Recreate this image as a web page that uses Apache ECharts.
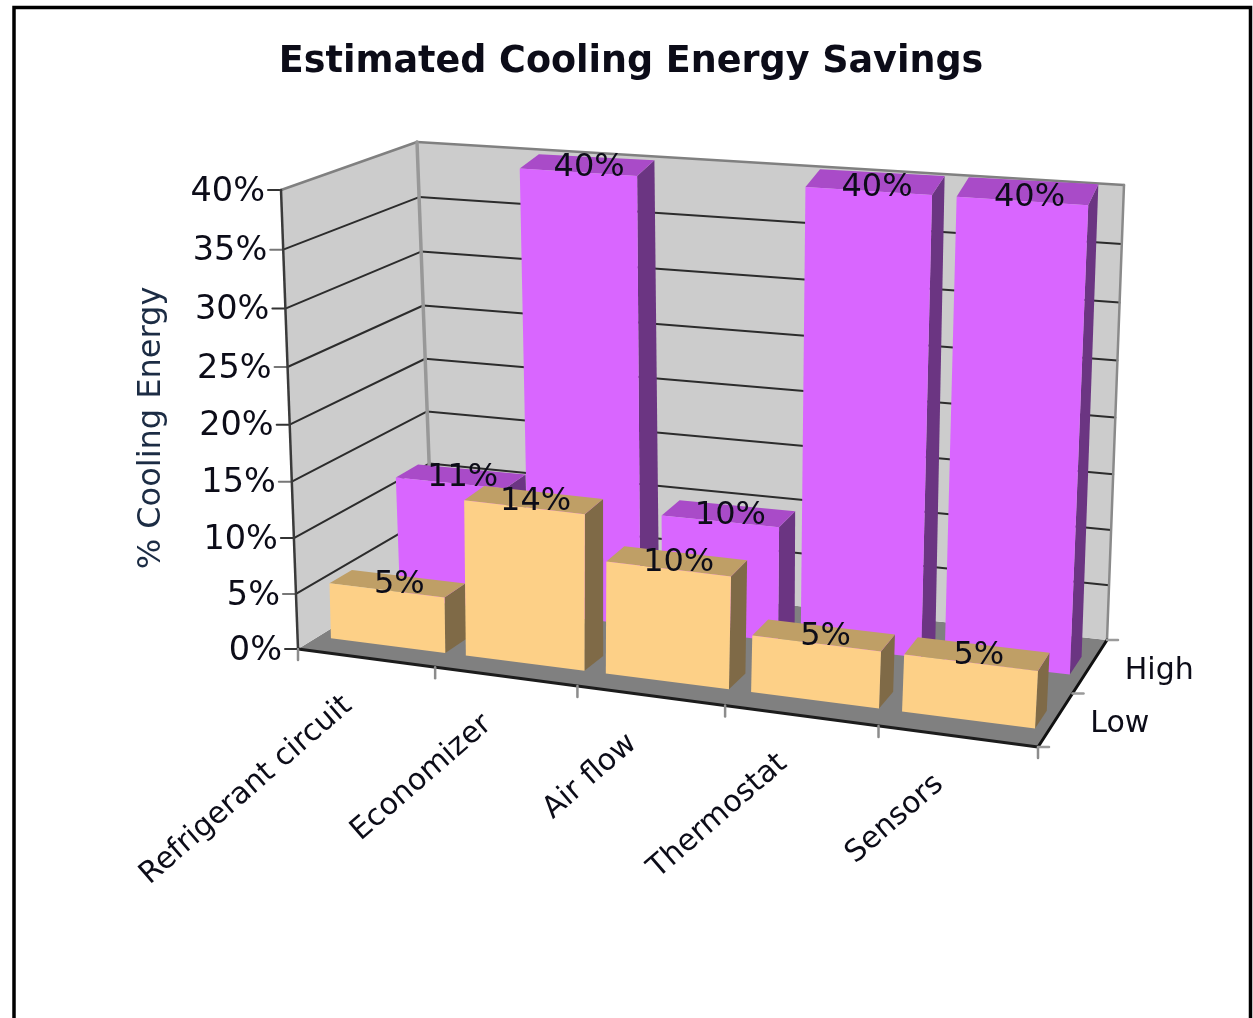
<!DOCTYPE html>
<html>
<head>
<meta charset="utf-8">
<style>html,body{margin:0;padding:0;background:#fff}#c{width:1253px;height:1018px}</style>
<script src="https://cdn.jsdelivr.net/npm/echarts@6/dist/echarts.min.js"></script>
</head>
<body>
<div id="c"></div>
<script>
const titleText = 'Estimated Cooling Energy Savings';
const yAxisName = '% Cooling Energy';
const categories = ['Refrigerant circuit', 'Economizer', 'Air flow', 'Thermostat', 'Sensors'];
const rowNames = ['Low', 'High'];
const lowValues = [5, 14, 10, 5, 5];
const highValues = [11, 40, 10, 40, 40];
const yTicks = [0, 5, 10, 15, 20, 25, 30, 35, 40];

const FONT = '"DejaVu Sans", Verdana, sans-serif';
const GRID = {left: 298, top: 190, width: 740, height: 459};
const YMAX = 40, NCAT = categories.length;

/* Oblique projection: flat axis position + depth -> page position */
const warp = t => 0.91 * t / (1 - 0.09 * t);
const lerp = (a, b, t) => [a[0] + (b[0] - a[0]) * t, a[1] + (b[1] - a[1]) * t];
function project(c, u, d, v) {
  const s = warp(u / NCAT), t = v / YMAX, h = t * (1 - c.bow * (1 - t));
  const f = lerp(lerp(c.fl0, c.fr0, s), lerp(c.fl1, c.fr1, s), h);
  const b = lerp(lerp(c.bl0, c.br0, s), lerp(c.bl1, c.br1, s), h);
  return lerp(f, b, d);
}
const frameCage = {
  bow: 0.045,
  fl0: [298, 649], fr0: [1038, 747], fl1: [281, 190], fr1: [1054, 283],
  bl0: [433, 566], br0: [1107, 640], bl1: [417, 142], br1: [1124, 185]
};
const barCage = {
  bow: 0,
  fl0: [321, 637], fr0: [1047, 730], fl1: [309, 197], fr1: [1071, 270],
  bl0: [390, 597], br0: [1082, 676], bl1: [374, 159], br1: [1101, 206]
};
const BAR_DEPTH = 0.33, LOW_GAP = 0.075, HIGH_GAP = 0.08;

const flatU = p => (p[0] - GRID.left) / GRID.width * NCAT;
const flatV = p => (GRID.top + GRID.height - p[1]) / GRID.height * YMAX;

const poly = (points, fill) => ({type: 'polygon', shape: {points}, style: {fill}, silent: true});
const line = (a, b, stroke, lineWidth) => ({type: 'line',
  shape: {x1: a[0], y1: a[1], x2: b[0], y2: b[1]}, style: {stroke, lineWidth, lineCap: 'round'}, silent: true});
const text = (x, y, str, size, align, rotation, fill) => ({type: 'text', x, y, rotation: rotation || 0, silent: true,
  style: {text: str, font: size + 'px ' + FONT, fontSize: size, fontFamily: FONT, fill: fill || '#0c0c18',
    align, textAlign: align, verticalAlign: 'middle', textVerticalAlign: 'middle'}});

function renderFrame(params, api) {
  const P = (u, d, v) => project(frameCage, u, d, v);
  const kids = [];
  kids.push(poly([P(0,0,0), P(0,1,0), P(NCAT,1,0), P(NCAT,0,0)], '#808080'));
  kids.push(poly([P(0,0,0), P(0,1,0), P(0,1,YMAX), P(0,0,YMAX)], '#cccccc'));
  kids.push(poly([P(0,1,0), P(NCAT,1,0), P(NCAT,1,YMAX), P(0,1,YMAX)], '#cccccc'));
  yTicks.forEach(t => {
    const v = flatV(api.coord([0, t]));
    if (t > 0 && t < YMAX) {
      kids.push(line(P(0,0,v), P(0,1,v), '#2c2c2c', 2));
      kids.push(line(P(0,1,v), P(NCAT,1,v), '#2c2c2c', 2));
    }
    const a = P(0,0,v);
    kids.push(line(a, [a[0] - 13, a[1]], t % 10 === 0 ? '#333' : '#777', 2));
    kids.push(text(a[0] - 16, a[1] + 2, t + '%', 33.5, 'right'));
  });
  kids.push(line(P(0,0,YMAX), P(0,1,YMAX), '#808080', 2.5));
  kids.push(line(P(0,1,YMAX), P(NCAT,1,YMAX), '#808080', 2.5));
  kids.push(line(P(NCAT,1,YMAX), P(NCAT,1,0), '#8a8a8a', 2.5));
  kids.push(line(P(0,1,0), P(0,1,YMAX), '#989898', 3.5));
  kids.push(line(P(0,0,0), P(0,0,YMAX), '#3a3a3a', 2.5));
  kids.push(line(P(0,0,0), P(NCAT,0,0), '#1c1c1c', 3));
  kids.push(line(P(NCAT,0,0), P(NCAT,1,0), '#111', 3));
  for (let i = 0; i <= NCAT; i++) {
    const a = P(i,0,0);
    kids.push(line(a, [a[0], a[1] + 11], '#8c8c8c', 2.5));
  }
  [0, 0.5, 1].forEach(d => {
    const a = P(NCAT,d,0);
    kids.push(line(a, [a[0] + 11, a[1]], '#9a9a9a', 2.5));
  });
  categories.forEach((c, i) => {
    const u = flatU(api.coord([i, 0]));
    const a = P(u,0,0);
    kids.push(text(a[0] - 18, a[1] + 44, c, 30, 'right', 41 * Math.PI / 180));
  });
  rowNames.forEach((r, i) => {
    const a = P(NCAT, (i + 0.5) / rowNames.length, 0);
    kids.push(text(a[0] + 35, a[1] + 4, r, 30, 'left'));
  });
  kids.push(text(152, 428, yAxisName, 32, 'center', Math.PI / 2, '#1c2c44'));
  return {type: 'group', children: kids};
}

const barShape = (api, d0, gap) => {
  const p = api.coord([api.value(0), api.value(1)]);
  const uc = flatU(p), v = flatV(p);
  return {u0: uc - 0.5 + gap, u1: uc + 0.5 - gap, v, d0, d1: d0 + BAR_DEPTH};
};
function barRenderer(d0, gap, front, top, side) {
  return (params, api) => {
    const b = barShape(api, d0, gap);
    const P = (u, d, v) => project(barCage, u, d, v);
    return {type: 'group', children: [
      poly([P(b.u1,b.d0,0), P(b.u1,b.d1,0), P(b.u1,b.d1,b.v), P(b.u1,b.d0,b.v)], side),
      poly([P(b.u0,b.d0,b.v), P(b.u1,b.d0,b.v), P(b.u1,b.d1,b.v), P(b.u0,b.d1,b.v)], top),
      poly([P(b.u0,b.d0,0), P(b.u1,b.d0,0), P(b.u1,b.d0,b.v), P(b.u0,b.d0,b.v)], front)
    ]};
  };
}
function labelRenderer(d0, gap) {
  return (params, api) => {
    const b = barShape(api, d0, gap);
    const um = (b.u0 + b.u1) / 2;
    const a = project(barCage, um, (b.d0 + b.d1) / 2, b.v);
    return text(a[0] + 2, a[1] + 1 + 7 * (b.v / YMAX) * (um / NCAT), api.value(1) + '%', 32, 'center');
  };
}
const pairs = vals => vals.map((v, i) => [i, v]);
const common = {type: 'custom', coordinateSystem: 'cartesian2d', encode: {x: 0, y: 1}, silent: true, clip: false, animation: false};

const chart = echarts.init(document.getElementById('c'));
chart.setOption({
  animation: false,
  backgroundColor: '#ffffff',
  title: {text: titleText, left: 626, top: 39, textAlign: 'center',
    textStyle: {fontFamily: FONT, fontWeight: 'bold', fontSize: 36.5, color: '#0c0c18'}},
  grid: GRID,
  xAxis: {type: 'category', data: categories, show: false, boundaryGap: true},
  yAxis: {type: 'value', min: 0, max: YMAX, interval: 5, show: false},
  graphic: [{type: 'rect', silent: true, z: 0, shape: {x: 14, y: 7.5, width: 1236.5, height: 1100},
    style: {fill: 'none', stroke: '#000', lineWidth: 3.5}}],
  series: [
    Object.assign({}, common, {name: 'Frame', z: 1, data: [[0, 0]], renderItem: renderFrame}),
    Object.assign({}, common, {name: 'High', z: 2, data: pairs(highValues),
      renderItem: barRenderer(1, HIGH_GAP, '#d966ff', '#a94bc8', '#6b3582')}),
    Object.assign({}, common, {name: 'Low', z: 3, data: pairs(lowValues),
      renderItem: barRenderer(0, LOW_GAP, '#fdd087', '#bf9f66', '#7f6a47')}),
    Object.assign({}, common, {name: 'High labels', z: 4, data: pairs(highValues), renderItem: labelRenderer(1, HIGH_GAP)}),
    Object.assign({}, common, {name: 'Low labels', z: 4, data: pairs(lowValues), renderItem: labelRenderer(0, LOW_GAP)})
  ]
});
</script>
</body>
</html>
